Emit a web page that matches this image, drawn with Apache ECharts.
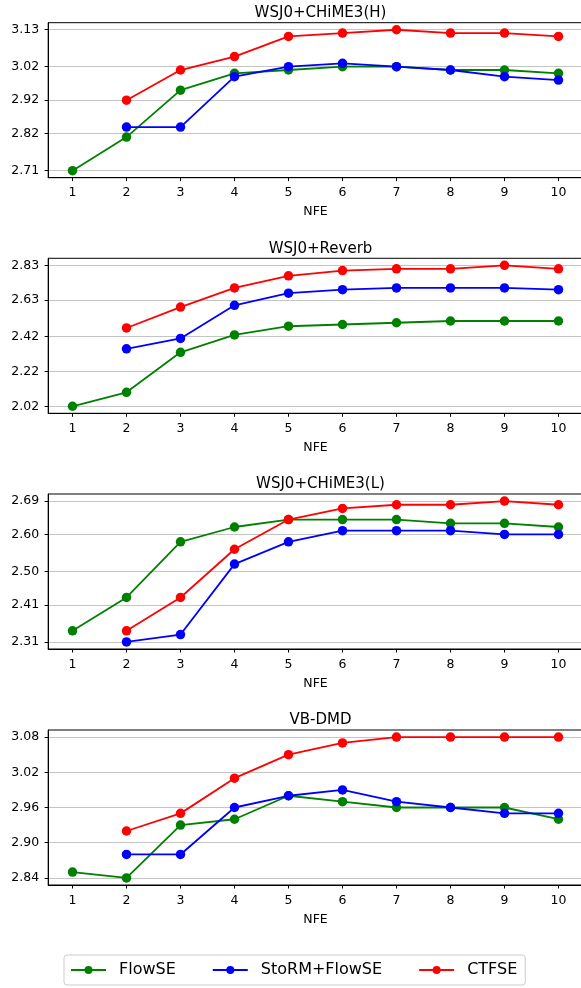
<!DOCTYPE html>
<html>
<head>
<meta charset="utf-8">
<script src="https://cdn.jsdelivr.net/npm/echarts@6/dist/echarts.min.js"></script>
<style>
html,body{margin:0;padding:0;background:#fff;}
#chart{width:581px;height:988px;}
</style>
</head>
<body>
<div id="chart"></div>
<script>
// ---- data ----
var nfe = [1, 2, 3, 4, 5, 6, 7, 8, 9, 10];
var seriesNames = ['FlowSE', 'StoRM+FlowSE', 'CTFSE'];
var panelTitles = ['WSJ0+CHiME3(H)', 'WSJ0+Reverb', 'WSJ0+CHiME3(L)', 'VB-DMD'];

var flowseH = [2.71, 2.81, 2.95, 3.00, 3.01, 3.02, 3.02, 3.01, 3.01, 3.00];
var stormH  = [null, 2.84, 2.84, 2.99, 3.02, 3.03, 3.02, 3.01, 2.99, 2.98];
var ctfseH  = [null, 2.92, 3.01, 3.05, 3.11, 3.12, 3.13, 3.12, 3.12, 3.11];
var ticksH  = [2.71, 2.82, 2.92, 3.02, 3.13];

var flowseR = [2.02, 2.10, 2.33, 2.43, 2.48, 2.49, 2.50, 2.51, 2.51, 2.51];
var stormR  = [null, 2.35, 2.41, 2.60, 2.67, 2.69, 2.70, 2.70, 2.70, 2.69];
var ctfseR  = [null, 2.47, 2.59, 2.70, 2.77, 2.80, 2.81, 2.81, 2.83, 2.81];
var ticksR  = [2.02, 2.22, 2.42, 2.63, 2.83];

var flowseL = [2.34, 2.43, 2.58, 2.62, 2.64, 2.64, 2.64, 2.63, 2.63, 2.62];
var stormL  = [null, 2.31, 2.33, 2.52, 2.58, 2.61, 2.61, 2.61, 2.60, 2.60];
var ctfseL  = [null, 2.34, 2.43, 2.56, 2.64, 2.67, 2.68, 2.68, 2.69, 2.68];
var ticksL  = [2.31, 2.41, 2.50, 2.60, 2.69];

var flowseV = [2.85, 2.84, 2.93, 2.94, 2.98, 2.97, 2.96, 2.96, 2.96, 2.94];
var stormV  = [null, 2.88, 2.88, 2.96, 2.98, 2.99, 2.97, 2.96, 2.95, 2.95];
var ctfseV  = [null, 2.92, 2.95, 3.01, 3.05, 3.07, 3.08, 3.08, 3.08, 3.08];
var ticksV  = [2.84, 2.90, 2.96, 3.02, 3.08];

// ---- layout ----
var panels = [
  {vals: [flowseH, stormH, ctfseH], ticks: ticksH},
  {vals: [flowseR, stormR, ctfseR], ticks: ticksR},
  {vals: [flowseL, stormL, ctfseL], ticks: ticksL},
  {vals: [flowseV, stormV, ctfseV], ticks: ticksV}
];
var colors = ['#008000', '#0000ff', '#ff0000'];
var FONT = 'DejaVu Sans';
var gridTops = [22.7, 258.3, 494, 730];
var gridH = 155;
var gridLeft = 48.2;
var gridW = 534.6;

var grids = [], xAxes = [], yAxes = [], series = [], titles = [];
panels.forEach(function (p, i) {
  grids.push({left: gridLeft, top: gridTops[i], width: gridW, height: gridH,
    show: true, borderColor: '#000', borderWidth: 1, containLabel: false,
    outerBoundsMode: 'none'});
  titles.push({text: panelTitles[i], left: gridLeft + gridW / 2, top: gridTops[i] - 22,
    textAlign: 'center',
    textStyle: {fontFamily: FONT, fontSize: 15, fontWeight: 'normal', color: '#000'}});
  var all = [];
  p.vals.forEach(function (arr) { arr.forEach(function (v) { if (v != null) all.push(v); }); });
  var mn = Math.min.apply(null, all), mx = Math.max.apply(null, all);
  var pad = (mx - mn) * 0.05;
  xAxes.push({
    type: 'value', gridIndex: i, min: 0.55, max: 10.45,
    name: 'NFE', nameLocation: 'middle', nameGap: 28,
    nameTextStyle: {fontFamily: FONT, fontSize: 12.5, color: '#000'},
    axisLine: {show: true, onZero: false, lineStyle: {color: '#000', width: 1}},
    axisTick: {show: true, inside: false, length: 3.5, customValues: nfe, lineStyle: {color: '#000'}},
    axisLabel: {show: true, margin: 9, customValues: nfe, fontFamily: FONT, fontSize: 12.5, color: '#000',
      formatter: function (v) { return String(v); }},
    splitLine: {show: false}
  });
  yAxes.push({
    type: 'value', gridIndex: i, min: mn - pad, max: mx + pad,
    axisLine: {show: true, onZero: false, lineStyle: {color: '#000', width: 1}},
    axisTick: {show: true, inside: false, length: 3.5, customValues: p.ticks, lineStyle: {color: '#000'}},
    axisLabel: {show: true, margin: 9, customValues: p.ticks, fontFamily: FONT, fontSize: 12.5, color: '#000',
      showMinLabel: true, showMaxLabel: true,
      formatter: function (v) { return v.toFixed(2); }},
    splitLine: {show: true, lineStyle: {color: '#c4c4c4', width: 1}}
  });
  p.vals.forEach(function (arr, k) {
    var data = [];
    arr.forEach(function (v, j) { if (v != null) data.push([nfe[j], v]); });
    series.push({
      name: seriesNames[k], type: 'line', xAxisIndex: i, yAxisIndex: i,
      data: data, symbol: 'circle', symbolSize: 9.5, showSymbol: true,
      lineStyle: {color: colors[k], width: 1.8},
      itemStyle: {color: colors[k]},
      animation: false, silent: true, z: 2 + k
    });
  });
});

var chart = echarts.init(document.getElementById('chart'), null, {renderer: 'canvas'});
chart.setOption({
  animation: false,
  backgroundColor: '#fff',
  title: titles,
  grid: grids,
  xAxis: xAxes,
  yAxis: yAxes,
  series: series,
  legend: {
    data: seriesNames,
    left: 64, top: 955,
    orient: 'horizontal',
    itemWidth: 35, itemHeight: 10, itemGap: 36,
    padding: [7, 8, 7, 6],
    borderColor: '#cccccc', borderWidth: 1, borderRadius: 3,
    backgroundColor: '#fff',
    textStyle: {fontFamily: FONT, fontSize: 16, color: '#000', padding: [0, 0, 0, 8]}
  }
});
</script>
</body>
</html>
